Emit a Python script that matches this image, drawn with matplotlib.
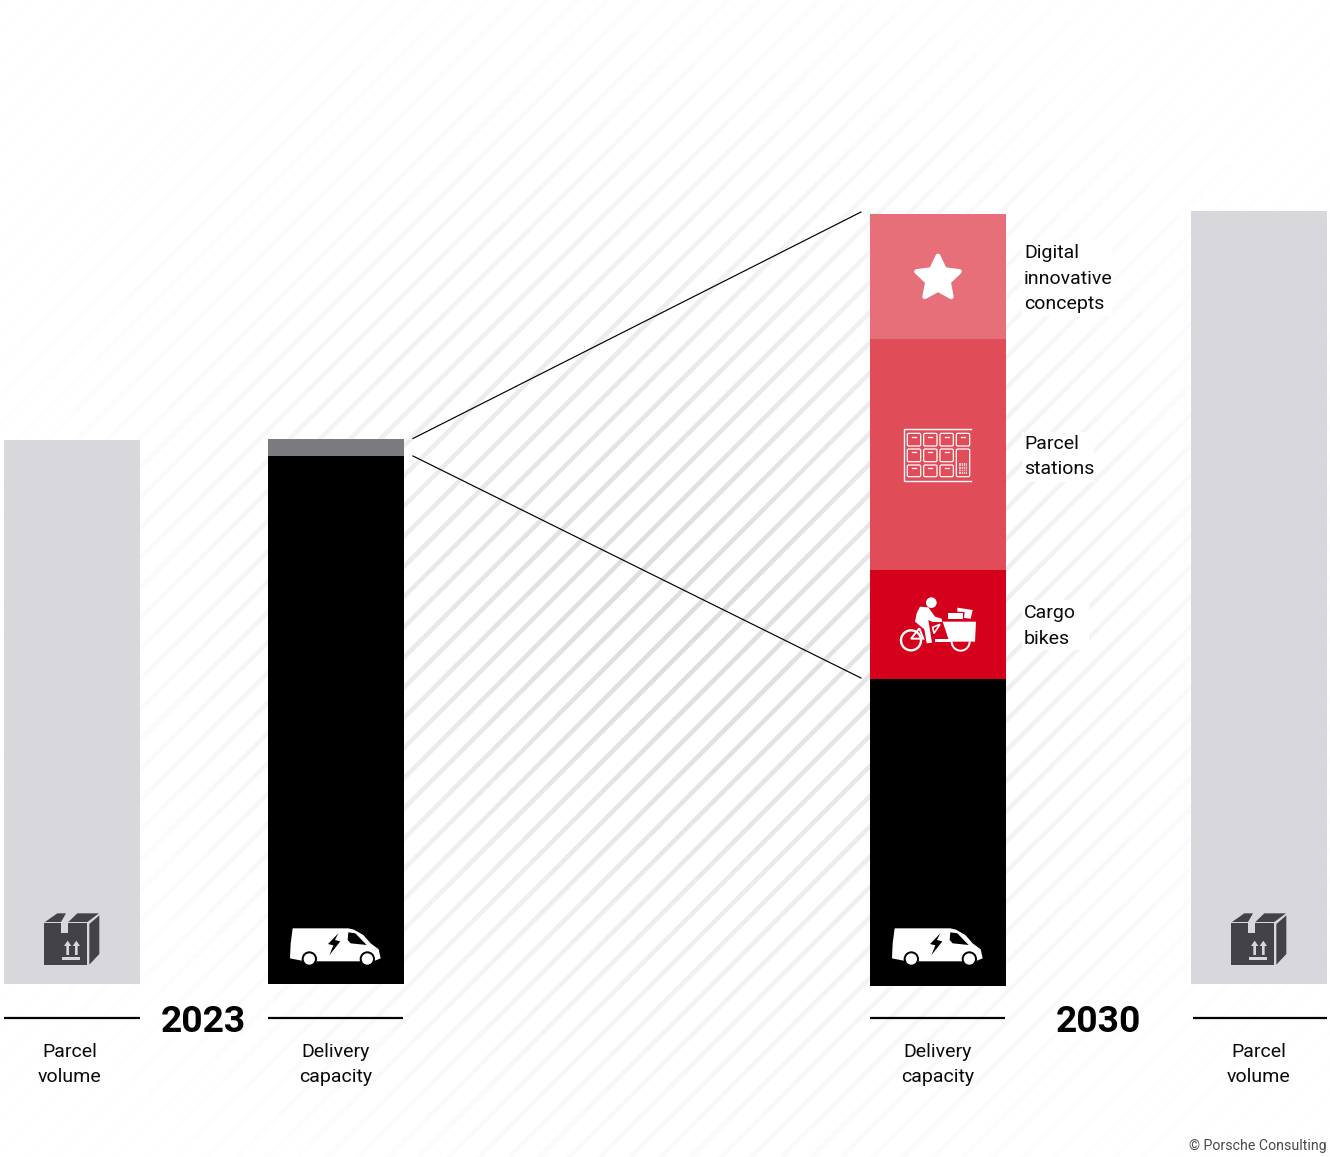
import numpy as np
import matplotlib
matplotlib.use("Agg")
import matplotlib.pyplot as plt
from matplotlib.patches import Polygon, Circle, Rectangle, FancyBboxPatch, Wedge
from matplotlib.transforms import Affine2D

W, H = 1330, 1157
BASE = 984

# bar heights
volume_2023 = 544
capacity_2023 = [528, 17]
volume_2030 = 773
capacity_2030 = [307, 109, 231, 125]
capacity_2030_base = -2

bar_x = [72, 336, 938, 1259]
bar_width = 136
capacity_2030_colors = ["#000000", "#d5001c", "#e04c57", "#e76f79"]

col_labels = [["Parcel", "volume"], ["Delivery", "capacity"], ["Delivery", "capacity"], ["Parcel", "volume"]]
col_label_x = [69.5, 335.5, 938, 1259]
rule_spans = [(4, 140), (268, 403), (870, 1005), (1193, 1327)]
years = ["2023", "2030"]
year_x = [203.5, 1098.5]
measures = [(["Digital", "innovative", "concepts"], 258.5), (["Parcel", "stations"], 449), (["Cargo", "bikes"], 618.5)]

plt.rcParams["font.family"] = ["Roboto", "DejaVu Sans"]

fig = plt.figure(figsize=(W / 100, H / 100), dpi=100, facecolor="white")
ax = fig.add_axes([0, 0, 1, 1])
ax.set_xlim(0, W)
ax.set_ylim(BASE - H, BASE)
ax.axis("off")

# pixel coordinates with origin top left, for icons and text
px = Affine2D().scale(1, -1).translate(0, H)


def stripes():
    # diagonal hatching that fades out away from the middle of the chart
    yy, xx = np.mgrid[0:H, 0:W]
    xx = xx + 0.5
    yy = yy + 0.5
    period = 30.25
    d = np.abs(((xx + yy - 1273) + period / 2) % period - period / 2) / np.sqrt(2)
    cover = np.clip(2.3 - d + 0.5, 0, 1)
    r2 = (xx - 680) ** 2 + (yy - 620) ** 2
    fade = np.exp(-r2 / (2 * 270.0 ** 2))
    val = 1 - cover * fade * 0.13
    return np.dstack([val, val, np.minimum(val * 1.006, 1)])


ax.imshow(stripes(), extent=(0, W, BASE - H, BASE), aspect="auto", interpolation="nearest", zorder=0)
ax.set_xlim(0, W)
ax.set_ylim(BASE - H, BASE)

# text sits on plain white
for x0, y0, w, h in [(1022, 240, 90, 76), (1022, 432, 72, 50), (1022, 600, 67, 50)]:
    ax.add_patch(Rectangle((x0, y0), w, h, fc="white", ec="none", transform=px, zorder=1))

# bars
ax.bar(bar_x[0], volume_2023, bar_width, color="#d8d8dc", zorder=2)
ax.bar(bar_x[3], volume_2030, bar_width, color="#d8d8dc", zorder=2)
ax.bar(bar_x[1], capacity_2023[0], bar_width, color="#000000", zorder=2)
ax.bar(bar_x[1], capacity_2023[1], bar_width, bottom=capacity_2023[0], color="#7b7b7f", zorder=2)
bottom = capacity_2030_base
for h, c in zip(capacity_2030, capacity_2030_colors):
    ax.bar(bar_x[2], h, bar_width, bottom=bottom, color=c, zorder=2)
    bottom += h

# connector lines from the 2023 grey block to the 2030 additions
top_2023 = sum(capacity_2023)
top_2030 = capacity_2030_base + sum(capacity_2030)
ax.plot([413, 861], [top_2023 + 0.5, top_2030 + 2], color="black", lw=0.85, zorder=3)
ax.plot([413, 861], [capacity_2023[0], capacity_2030_base + capacity_2030[0] + 1], color="black", lw=0.85, zorder=3)

# rules under the bars
for x0, x1 in rule_spans:
    ax.plot([x0, x1], [BASE - 1018, BASE - 1018], color="black", lw=1.6, solid_capstyle="butt", zorder=3)


def poly(pts, fc, dx=0, dy=0, ox=0, oy=0, s=1 / 3, z=5, **kw):
    # outlines were laid out on a 3x grid
    p = [(ox + x * s + dx, oy + y * s + dy) for x, y in pts]
    ax.add_patch(Polygon(p, closed=True, fc=fc, ec=kw.pop("ec", "none"), transform=px, zorder=z, **kw))


def box_icon(dx):
    dark = "#434347"
    light = "#d8d8dc"
    o = dict(ox=0, oy=890, dx=dx)
    poly([(132, 100), (183, 100), (183, 128), (205, 128), (205, 100), (262, 100), (262, 226), (132, 226)], dark, **o)
    poly([(135, 96), (172, 70), (198, 70), (183, 96)], dark, **o)
    poly([(205, 96), (232, 70), (297, 70), (262, 96)], dark, **o)
    poly([(268, 102), (298, 76), (298, 192), (268, 224)], dark, **o)
    for ax_x in (203, 229):
        poly([(ax_x, 152), (ax_x + 11, 168), (ax_x + 4, 168), (ax_x + 4, 195), (ax_x - 4, 195), (ax_x - 4, 168), (ax_x - 11, 168)], light, z=6, **o)
    poly([(187, 200), (241, 200), (241, 209), (187, 209)], light, z=6, **o)


def van_icon(dx):
    o = dict(ox=0, oy=890, dx=dx)
    poly([(878, 115), (1045, 115), (1062, 119), (1090, 135), (1112, 160), (1136, 178), (1142, 205),
          (1125, 212), (1085, 214), (950, 214), (905, 212), (870, 205), (872, 160)], "white", **o)
    for cx in (928, 1102):
        ax.add_patch(Circle((cx / 3 + dx, 890 + 207 / 3), 23 / 3, fc="black", ec="none", transform=px, zorder=6))
        ax.add_patch(Circle((cx / 3 + dx, 890 + 207 / 3), 17 / 3, fc="white", ec="none", transform=px, zorder=7))
    poly([(1045, 127), (1066, 130), (1100, 165), (1052, 160), (1043, 150)], "black", z=6, **o)
    poly([(1015, 130), (984, 162), (1000, 166), (988, 196), (1021, 154), (1005, 150)], "black", z=6, **o)


box_icon(0)
box_icon(1187)
van_icon(0)
van_icon(602)

# star
ang = np.deg2rad(np.arange(0, 360, 36) - 90)
rad = np.where(np.arange(10) % 2 == 0, 22.5, 11)
star = np.column_stack([938 + rad * np.cos(ang), 278.5 + rad * np.sin(ang)])
ax.add_patch(Polygon(star, closed=True, fc="white", ec="white", lw=3.5, joinstyle="round", transform=px, zorder=5))

# parcel station
sx, sy = 860, 200
ax.plot([sx + 333 / 3, sx + 133 / 3, sx + 133 / 3, sx + 333 / 3], [sy + 687 / 3, sy + 687 / 3, sy + 844 / 3, sy + 844 / 3],
        color="white", lw=1.0, transform=px, zorder=5)
columns = [(142, 182), (191, 231), (240, 280), (289, 329)]
rows = [(700, 738), (747, 785), (795, 830)]
for i, (y0, y1) in enumerate(rows):
    for j, (x0, x1) in enumerate(columns):
        if j == 3 and i > 0:
            continue
        ax.add_patch(FancyBboxPatch((sx + x0 / 3, sy + y0 / 3), (x1 - x0) / 3, (y1 - y0) / 3, boxstyle="round,pad=0,rounding_size=1.5",
                                    fc="none", ec="white", lw=0.9, transform=px, zorder=5))
        xm = (x0 + x1) / 6 + sx
        ax.plot([xm - 2, xm + 2], [sy + y0 / 3 + 3.2] * 2, color="white", lw=0.9, transform=px, zorder=5)
ax.add_patch(FancyBboxPatch((sx + 289 / 3, sy + 747 / 3), 40 / 3, 83 / 3, boxstyle="round,pad=0,rounding_size=1.5",
                            fc="none", ec="white", lw=0.9, transform=px, zorder=5))
ax.add_patch(Rectangle((sx + 297 / 3, sy + 790 / 3), 24 / 3, 32 / 3, fc="#f4c3c7", ec="none", transform=px, zorder=5))
for k in range(1, 4):
    xk = sx + (297 + k * 6) / 3
    ax.plot([xk, xk], [sy + 790 / 3, sy + 822 / 3], color="#e04c57", lw=0.5, transform=px, zorder=6)
    yk = sy + (790 + k * 8) / 3
    ax.plot([sx + 297 / 3, sx + 321 / 3], [yk, yk], color="#e04c57", lw=0.5, transform=px, zorder=6)

# cargo bike
o = dict(ox=860, oy=570)
ax.add_patch(Circle((860 + 214 / 3, 570 + 98 / 3), 16 / 3, fc="white", ec="none", transform=px, zorder=5))
poly([(180, 110), (205, 112), (225, 140), (245, 146), (247, 156), (218, 156), (205, 150), (216, 218), (200, 220), (193, 178), (165, 155), (170, 130)], "white", **o)
ax.add_patch(Circle((860 + 153 / 3, 570 + 211 / 3), 30 / 3, fc="none", ec="white", lw=1.7, transform=px, zorder=5))
poly([(153, 206), (178, 175), (190, 206)], "none", ec="white", lw=1.4, **o)
poly([(225, 206), (275, 206), (275, 215), (225, 215)], "white", **o)
poly([(218, 172), (240, 163), (222, 190)], "none", ec="white", lw=1.2, **o)
poly([(248, 155), (348, 155), (345, 215), (268, 215)], "white", **o)
poly([(265, 130), (310, 130), (310, 147), (265, 147)], "white", **o)
poly([(292, 113), (338, 120), (332, 146), (312, 144), (314, 126), (292, 125)], "white", **o)
ax.add_patch(Wedge((860 + 302 / 3, 570 + 215 / 3), 30 / 3, 0, 180, width=6 / 3, fc="white", ec="none", transform=px, zorder=5))

# text
for (lines, x) in zip(col_labels, col_label_x):
    for i, line in enumerate(lines):
        ax.text(x, 1057 + i * 25, line, ha="center", va="baseline", fontsize=14, color="#0a0a0a", transform=px, zorder=8)
for lines, y in measures:
    for i, line in enumerate(lines):
        ax.text(1024, y + i * 25.3, line, ha="left", va="baseline", fontsize=14, color="#0a0a0a", transform=px, zorder=8)
for label, x in zip(years, year_x):
    ax.text(x, 1032, label, ha="center", va="baseline", fontsize=26.8, fontweight="bold", color="black", transform=px, zorder=8)
ax.text(1327, 1150, "© Porsche Consulting", ha="right", va="baseline", fontsize=10.2, color="#4a4a4e", transform=px, zorder=8)

fig.savefig("out.png", dpi=100)
